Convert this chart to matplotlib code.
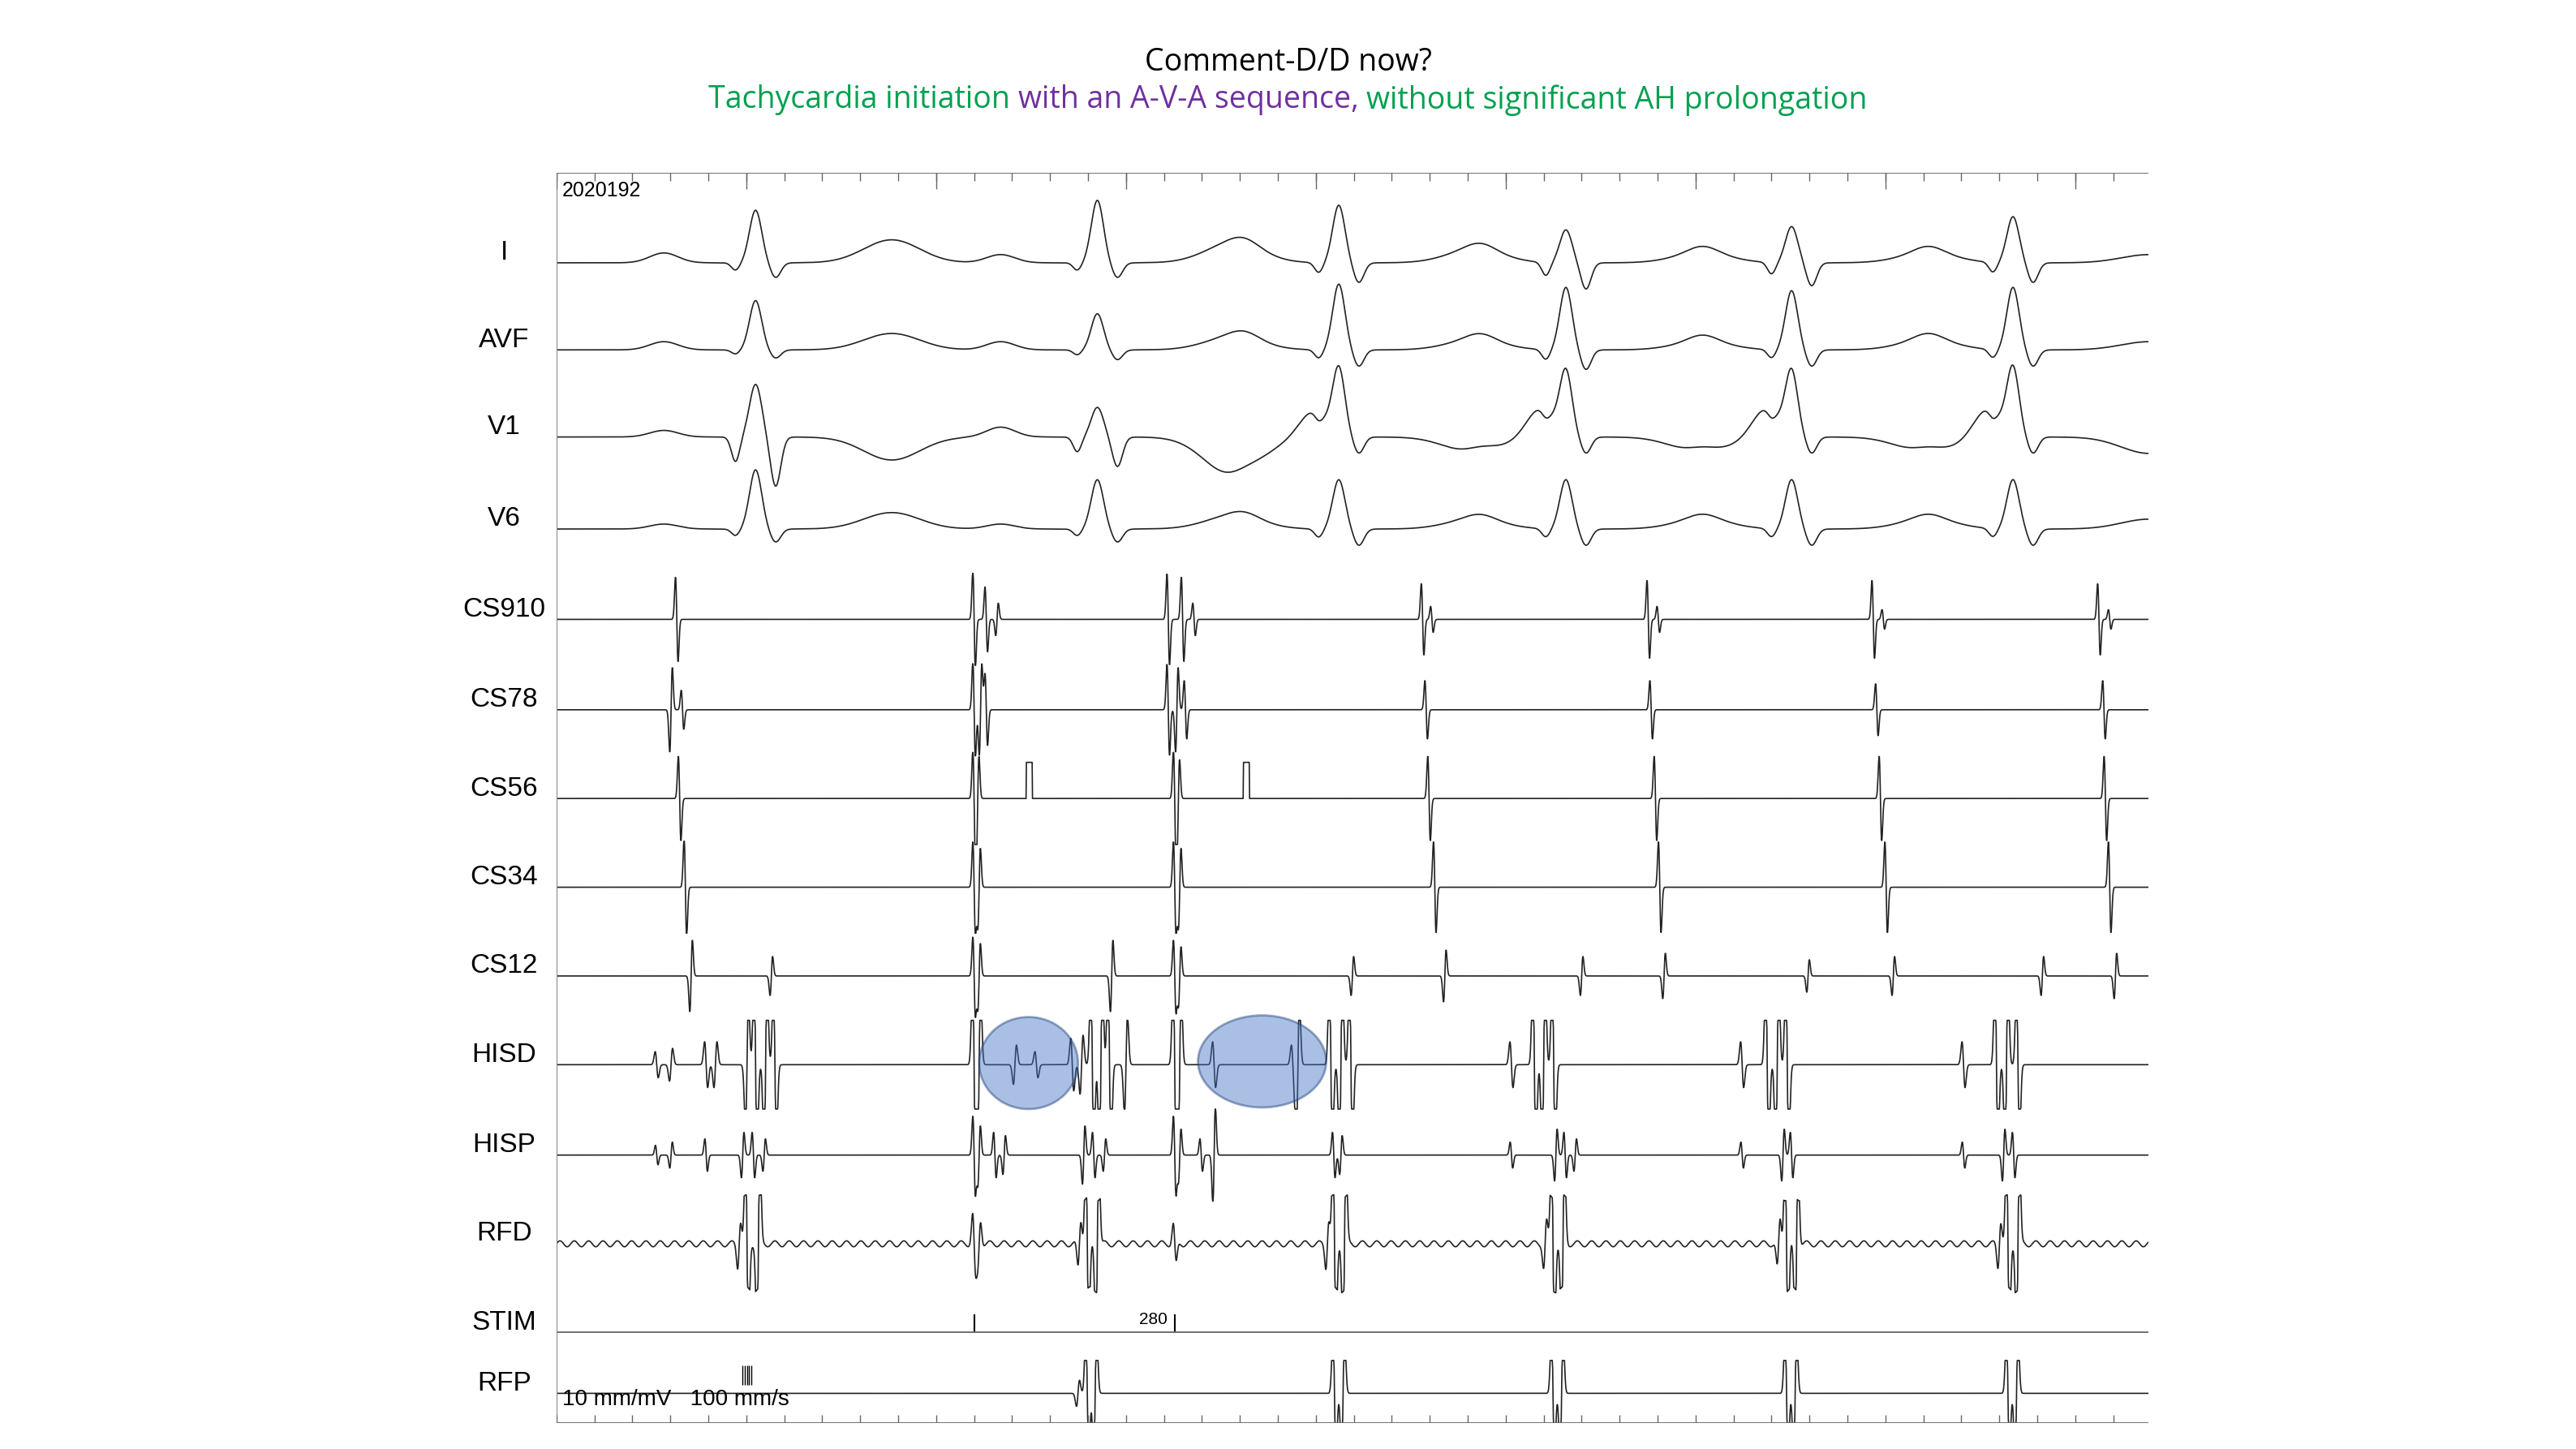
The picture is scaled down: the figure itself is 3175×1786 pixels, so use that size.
import numpy as np
import matplotlib
matplotlib.use("Agg")
import matplotlib.pyplot as plt
from matplotlib.patches import Ellipse

# time in ms across the strip (100 mm/s), vertical in display units
T_END = 2222
channels = ["I", "AVF", "V1", "V6", "CS910", "CS78", "CS56", "CS34", "CS12",
            "HISD", "HISP", "RFD", "STIM", "RFP"]
baselines = [160, 213, 266, 322, 377, 432, 486, 540, 594, 648, 703, 757, 811, 848]

# surface ECG beats
qrs_times = [278, 755, 1092, 1409, 1724, 2033]
p_times = [150, 620, 960, 1290, 1600, 1915]
lead_r = {"I": [32, 38, 35, 20, 22, 28], "AVF": [30, 22, 40, 38, 36, 38],
          "V1": [32, 18, 40, 38, 38, 40], "V6": [36, 30, 30, 30, 30, 30]}
lead_s = {"I": [-9, -9, -12, -16, -14, -12], "AVF": [-5, -6, -10, -12, -10, -10],
          "V1": [-30, -18, -10, -10, -10, -10], "V6": [-8, -8, -10, -10, -10, -10]}
lead_t = {"I": [14, 12, 8, 6, 6, 5], "AVF": [10, 8, 6, 5, 6, 5],
          "V1": [-14, -24, -10, -10, -10, -10], "V6": [10, 8, 6, 6, 6, 6]}
lead_p = {"I": [6, 5, 4, 4, 4, 4], "AVF": [5, 5, 4, 4, 4, 4],
          "V1": [4, 6, 4, 4, 4, 4], "V6": [3, 3, 3, 3, 3, 3]}
# slow upstroke preceding R (wide-complex look in V1)
lead_ramp = {"I": [0, 0, 0, 0, 0, 0], "AVF": [0, 0, 0, 0, 0, 0],
             "V1": [0, 0, 16, 18, 18, 18], "V6": [0, 0, 0, 0, 0, 0]}

# intracardiac deflections: (time ms, amplitude)
cs910 = [(168, 26), (583, 30), (600, 20), (615, -10), (854, 28), (874, 26), (890, 10),
         (1209, 22), (1222, 8), (1524, 24), (1538, 8), (1838, 24), (1852, 6), (2153, 22), (2168, 6)]
cs78 = [(160, -26), (176, 12), (583, 30), (592, -28), (600, 22), (854, 28), (866, -26), (878, 18),
        (1214, 18), (1528, 18), (1843, 16), (2160, 18)]
cs56 = [(172, 26), (583, 30), (588, -26), (863, 30), (868, -24),
        (1218, 26), (1534, 26), (1848, 26), (2162, 26)]
cs56_pulses = [(656, 664), (959, 967)]
cs34 = [(180, 30), (583, 28), (590, -24), (863, 28), (870, -24),
        (1226, 28), (1540, 28), (1856, 28), (2168, 28)]
cs12 = [(188, -22), (300, -12), (583, 24), (590, -20), (775, -22), (863, 22), (870, -18),
        (1111, -12), (1240, -16), (1431, -12), (1546, -14), (1747, -10), (1866, -12), (2074, -12), (2176, -14)]
hisd = [(140, 8), (160, -10), (209, 14), (222, -14), (266, -40), (278, 60), (292, -60), (305, 50),
        (583, 60), (590, -50), (640, -12), (670, 8), (720, 16), (733, -18),
        (748, 60), (760, -60), (772, 60), (795, -30), (863, 60), (870, -50), (918, 14),
        (1028, 12), (1035, -40), (1081, 60), (1095, -60), (1109, 60),
        (1333, 14), (1365, 60), (1378, -60), (1392, 60), (1655, 14), (1690, 60), (1704, -60), (1718, 60),
        (1964, 14), (2010, 60), (2024, -60), (2040, 50)]
hisp = [(140, 6), (160, -8), (209, 10), (260, -14), (275, 14), (290, -10),
        (583, 24), (590, -18), (612, 14), (625, -12), (736, -18), (750, 14), (765, -10),
        (863, 24), (870, -16), (900, 10), (918, -30), (1085, 14), (1095, -12),
        (1333, 8), (1395, -16), (1408, 14), (1422, -10), (1655, 8), (1712, -16), (1724, 14),
        (1964, 8), (2020, -16), (2034, 14)]
rfd = [(255, -14), (266, 60), (282, -60), (583, 18), (590, -14), (730, -14), (741, 60), (755, -60),
       (863, 12), (1076, -14), (1086, 60), (1100, -60), (1380, -14), (1391, 60), (1405, -60),
       (1706, -14), (1717, 60), (1731, -60), (2014, -14), (2026, 60), (2040, -60)]
rfp = [(268, 0), (728, -8), (741, 40), (752, -40), (1076, 0), (1086, 40), (1098, -40),
       (1382, 0), (1391, 40), (1403, -40), (1706, 0), (1717, 40), (1729, -40),
       (2018, 0), (2026, 40), (2038, -40)]
stim_times = [583, 863]
stim_label = "280"

t = np.arange(0, T_END, 0.5)


def g(c, w):
    return np.exp(-((t - c) / w) ** 2)


def spike(c, a, w=2.5):
    return a * 2.33 * (-(t - c) / w) * np.exp(-((t - c) / w) ** 2)


def surface(name):
    y = np.zeros_like(t)
    for i, q in enumerate(qrs_times):
        y += lead_p[name][i] * g(p_times[i], 28)
        y += lead_ramp[name][i] * g(q - 35, 28)
        y += lead_s[name][i] * 0.5 * g(q - 28, 8)
        y += lead_r[name][i] * g(q, 12)
        y += lead_s[name][i] * g(q + 28, 10)
        y += lead_t[name][i] * g(q + 190, 55)
    return y


def intracardiac(events, sat, w=2.5):
    y = np.zeros_like(t)
    for c, a in events:
        y += spike(c, a, w)
    return np.clip(y, -sat, sat)


fig = plt.figure(figsize=(31.75, 17.86), dpi=100)
ax = fig.add_axes([0.216, 0.018, 0.618, 0.863])
ax.set_xlim(0, T_END)
ax.set_ylim(866, 105)
ax.axis("off")

signals = {name: surface(name) for name in ["I", "AVF", "V1", "V6"]}
signals["CS910"] = intracardiac(cs910, 28)
signals["CS78"] = intracardiac(cs78, 28)
cs = intracardiac(cs56, 28)
for a, b in cs56_pulses:
    cs += np.where((t >= a) & (t <= b), 22, 0)
signals["CS56"] = cs
signals["CS34"] = intracardiac(cs34, 28)
signals["CS12"] = intracardiac(cs12, 28)
signals["HISD"] = intracardiac(hisd, 27, 3)
signals["HISP"] = intracardiac(hisp, 28)
ripple = 1.8 * np.sin(2 * np.pi * t / 20)
signals["RFD"] = intracardiac(rfd, 28, 3) + ripple
signals["RFP"] = intracardiac(rfp, 20, 3)

for name, base in zip(channels, baselines):
    ax.text(-73, base - 6, name, ha="center", va="center",
            fontsize=24, family="Liberation Sans")
    if name == "STIM":
        continue
    ax.plot(t, base - signals[name], color="#222222", lw=1.2)

ax.vlines(stim_times, 800, 811, color="black", lw=1.5)
ax.text(833, 803, stim_label, ha="center", va="center", fontsize=15, family="Liberation Sans")
ax.hlines([105, 811, 866], 0, T_END, color="#666666", lw=1.3)
ax.vlines(0, 105, 866, color="#888888", lw=1.5)
ticks = np.arange(0, T_END, 53)
ax.vlines(ticks, 105, 110, color="#666666", lw=1)
ax.vlines(ticks[::5], 105, 115, color="#666666", lw=1)
ax.vlines(ticks, 861, 866, color="#666666", lw=1)
ax.vlines([260, 263, 266, 269, 272], 831, 843, color="black", lw=1)

ax.text(8, 116, "2020192", fontsize=18, family="Liberation Sans", va="center")
ax.text(8, 852, "10 mm/mV   100 mm/s", fontsize=20, family="Liberation Sans", va="center")

ax.add_patch(Ellipse((659, 647), 138, 56, facecolor="#4472C4", alpha=0.45,
                     edgecolor="#1F3F7A", lw=2, zorder=5))
ax.add_patch(Ellipse((985, 646), 179, 56, facecolor="#4472C4", alpha=0.45,
                     edgecolor="#1F3F7A", lw=2, zorder=5))

fig.text(0.5, 0.957, "Comment-D/D now?", ha="center", va="center",
         fontsize=27, family="Open Sans")
parts = ["Tachycardia initiation ", "with an A-V-A sequence, ", "without significant AH prolongation"]
colors = ["#00A050", "#7030A0", "#00A050"]
renderer = fig.canvas.get_renderer()
texts = [fig.text(0, 0.931, p, color=c, fontsize=27, family="Open Sans", va="center")
         for p, c in zip(parts, colors)]
widths = [tx.get_window_extent(renderer).width / fig.bbox.width for tx in texts]
x = 0.5 - sum(widths) / 2
for tx, w in zip(texts, widths):
    tx.set_x(x)
    x += w

fig.savefig("out.png", dpi=100)
